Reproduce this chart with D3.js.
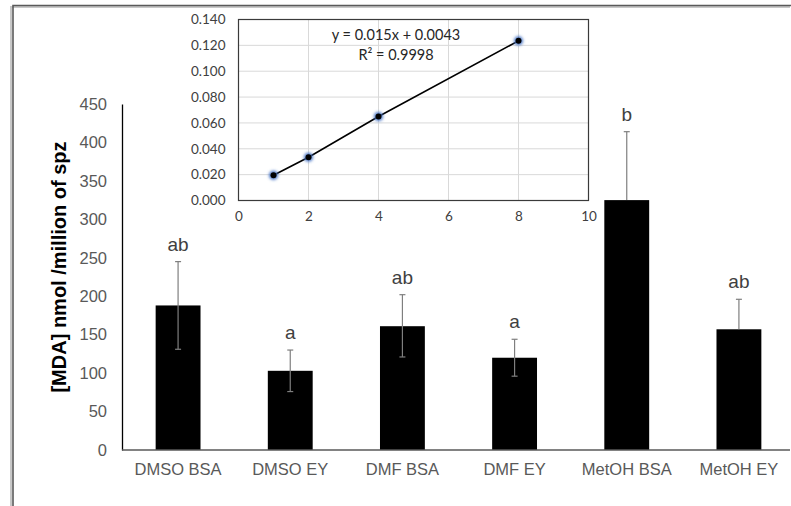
<!DOCTYPE html>
<html>
<head>
<meta charset="utf-8">
<script src="https://cdn.jsdelivr.net/npm/d3@7"></script>
<style>
  body { margin: 0; background: #fff; }
  svg { display: block; }
</style>
</head>
<body>
<svg id="chart" width="791" height="506"></svg>
<script>
// main bar chart data
const categories = ["DMSO BSA", "DMSO EY", "DMF BSA", "DMF EY", "MetOH BSA", "MetOH EY"];
const means = [188, 103, 161, 120, 325, 157];
const errUp = [57, 27, 41, 24, 89, 39];
const errDown = [57, 27, 40, 24, 0, 0];
const letters = ["ab", "a", "ab", "a", "b", "ab"];
const yTicks = [0, 50, 100, 150, 200, 250, 300, 350, 400, 450];

// inset calibration curve
const calX = [1, 2, 4, 8];
const calY = [0.0195, 0.0335, 0.065, 0.1235];
const insetYTicks = [0, 0.02, 0.04, 0.06, 0.08, 0.1, 0.12, 0.14];
const insetXTicks = [0, 2, 4, 6, 8, 10];
const equation = "y = 0.015x + 0.0043";
const rSquared = "R² = 0.9998";

const svg = d3.select("#chart");
const grey = "#595959";
const mainFont = "Liberation Sans, Arial, sans-serif";

// frame
svg.append("path")
    .attr("d", "M12,506 V6 H791")
    .attr("fill", "none")
    .attr("stroke", "#c8c8c8")
    .attr("stroke-width", 2)
    .attr("transform", "translate(-1,1)");
svg.append("path")
    .attr("d", "M13,506 V5.5 H791")
    .attr("fill", "none")
    .attr("stroke", "#5a5a5a")
    .attr("stroke-width", 1.6);

// ---- main chart ----
const x = d3.scaleBand()
    .domain(categories)
    .range([122, 795])
    .paddingInner(0.6)
    .paddingOuter(0.3);

const y = d3.scaleLinear()
    .domain([0, 450])
    .range([450, 104]);

const main = svg.append("g");

const yAxis = main.append("g")
    .attr("transform", "translate(122,0)")
    .call(d3.axisLeft(y).tickValues(yTicks).tickSize(0).tickPadding(15));
yAxis.select(".domain").attr("stroke", "#000").attr("stroke-width", 1.3);
yAxis.selectAll("text")
    .attr("fill", grey)
    .style("font-family", mainFont)
    .style("font-size", "16.5px");

main.selectAll("rect.bar")
    .data(categories)
    .enter()
    .append("rect")
    .attr("class", "bar")
    .attr("x", d => x(d))
    .attr("width", x.bandwidth())
    .attr("y", (d, i) => y(means[i]))
    .attr("height", (d, i) => y(0) - y(means[i]))
    .attr("fill", "#000");

// error bars
const err = main.selectAll("g.err")
    .data(categories)
    .enter()
    .append("g")
    .attr("class", "err")
    .attr("stroke", "#7f7f7f")
    .attr("stroke-width", 1.2);
err.append("line")
    .attr("x1", d => x(d) + x.bandwidth() / 2)
    .attr("x2", d => x(d) + x.bandwidth() / 2)
    .attr("y1", (d, i) => y(means[i] - errDown[i]))
    .attr("y2", (d, i) => y(means[i] + errUp[i]));
err.append("line")
    .attr("x1", d => x(d) + x.bandwidth() / 2 - 3)
    .attr("x2", d => x(d) + x.bandwidth() / 2 + 3)
    .attr("y1", (d, i) => y(means[i] + errUp[i]))
    .attr("y2", (d, i) => y(means[i] + errUp[i]));
err.filter((d, i) => errDown[i] > 0)
    .append("line")
    .attr("x1", d => x(d) + x.bandwidth() / 2 - 3)
    .attr("x2", d => x(d) + x.bandwidth() / 2 + 3)
    .attr("y1", (d, i) => y(means[i] - errDown[i]))
    .attr("y2", (d, i) => y(means[i] - errDown[i]));

// x axis line
main.append("line")
    .attr("x1", 122).attr("x2", 790)
    .attr("y1", y(0)).attr("y2", y(0))
    .attr("stroke", "#595959")
    .attr("stroke-width", 1.3);

main.selectAll("text.cat")
    .data(categories)
    .enter()
    .append("text")
    .attr("class", "cat")
    .attr("x", d => x(d) + x.bandwidth() / 2)
    .attr("y", 475)
    .attr("text-anchor", "middle")
    .attr("fill", grey)
    .style("font-family", mainFont)
    .style("font-size", "16.5px")
    .text(d => d);

// significance letters
main.selectAll("text.letter")
    .data(categories)
    .enter()
    .append("text")
    .attr("class", "letter")
    .attr("x", d => x(d) + x.bandwidth() / 2)
    .attr("y", (d, i) => y(means[i] + errUp[i]) - 11)
    .attr("text-anchor", "middle")
    .attr("fill", "#404040")
    .style("font-family", mainFont)
    .style("font-size", "19px")
    .text((d, i) => letters[i]);

svg.append("text")
    .attr("transform", "translate(66,267) rotate(-90)")
    .attr("text-anchor", "middle")
    .attr("fill", "#000")
    .style("font-family", mainFont)
    .style("font-weight", "bold")
    .style("font-size", "20px")
    .text("[MDA] nmol /million of spz");

// ---- inset ----
const ix = d3.scaleLinear().domain([0, 10]).range([238.5, 588.5]);
const iy = d3.scaleLinear().domain([0, 0.14]).range([200.5, 19.5]);
const inset = svg.append("g");
const insetFont = "Lato, Carlito, Calibri, sans-serif";

inset.append("rect")
    .attr("x", ix(0)).attr("y", iy(0.14))
    .attr("width", ix(10) - ix(0))
    .attr("height", iy(0) - iy(0.14))
    .attr("fill", "#fff");

inset.selectAll("line.hgrid")
    .data(insetYTicks)
    .enter()
    .append("line")
    .attr("class", "hgrid")
    .attr("x1", ix(0)).attr("x2", ix(10))
    .attr("y1", d => iy(d)).attr("y2", d => iy(d))
    .attr("stroke", "#d9d9d9");
inset.selectAll("line.vgrid")
    .data(insetXTicks)
    .enter()
    .append("line")
    .attr("class", "vgrid")
    .attr("x1", d => ix(d)).attr("x2", d => ix(d))
    .attr("y1", iy(0)).attr("y2", iy(0.14))
    .attr("stroke", "#d9d9d9");

inset.append("rect")
    .attr("x", ix(0)).attr("y", iy(0.14))
    .attr("width", ix(10) - ix(0))
    .attr("height", iy(0) - iy(0.14))
    .attr("fill", "none")
    .attr("stroke", "#3a3a3a")
    .attr("stroke-width", 1.2);

const iyAxis = inset.append("g")
    .attr("transform", `translate(${ix(0)},0)`)
    .call(d3.axisLeft(iy).tickValues(insetYTicks).tickFormat(d3.format(".3f")).tickSize(0).tickPadding(13));
iyAxis.select(".domain").remove();
iyAxis.selectAll("text")
    .attr("fill", "#404040")
    .style("font-family", insetFont)
    .style("font-size", "13.5px");

const ixAxis = inset.append("g")
    .attr("transform", `translate(0,${iy(0)})`)
    .call(d3.axisBottom(ix).tickValues(insetXTicks).tickSize(0).tickPadding(11));
ixAxis.select(".domain").remove();
ixAxis.selectAll("text")
    .attr("fill", "#404040")
    .style("font-family", insetFont)
    .style("font-size", "13.5px");

const defs = svg.append("defs");
defs.append("filter")
    .attr("id", "glow")
    .attr("x", "-100%").attr("y", "-100%")
    .attr("width", "300%").attr("height", "300%")
    .append("feGaussianBlur")
    .attr("stdDeviation", 1.5);

inset.append("path")
    .datum(calX.map((d, i) => [d, calY[i]]))
    .attr("d", d3.line().x(d => ix(d[0])).y(d => iy(d[1])))
    .attr("fill", "none")
    .attr("stroke", "#000")
    .attr("stroke-width", 1.6);

inset.selectAll("circle.glow")
    .data(calX)
    .enter()
    .append("circle")
    .attr("class", "glow")
    .attr("cx", d => ix(d))
    .attr("cy", (d, i) => iy(calY[i]))
    .attr("r", 4.5)
    .attr("fill", "#4472c4")
    .attr("filter", "url(#glow)");
inset.selectAll("circle.pt")
    .data(calX)
    .enter()
    .append("circle")
    .attr("class", "pt")
    .attr("cx", d => ix(d))
    .attr("cy", (d, i) => iy(calY[i]))
    .attr("r", 3)
    .attr("fill", "#000");

inset.append("text")
    .attr("x", 396).attr("y", 40)
    .attr("text-anchor", "middle")
    .attr("fill", "#262626")
    .style("font-family", insetFont)
    .style("font-size", "14.5px")
    .text(equation);
inset.append("text")
    .attr("x", 396).attr("y", 60)
    .attr("text-anchor", "middle")
    .attr("fill", "#262626")
    .style("font-family", insetFont)
    .style("font-size", "14.5px")
    .text(rSquared);
</script>
</body>
</html>
